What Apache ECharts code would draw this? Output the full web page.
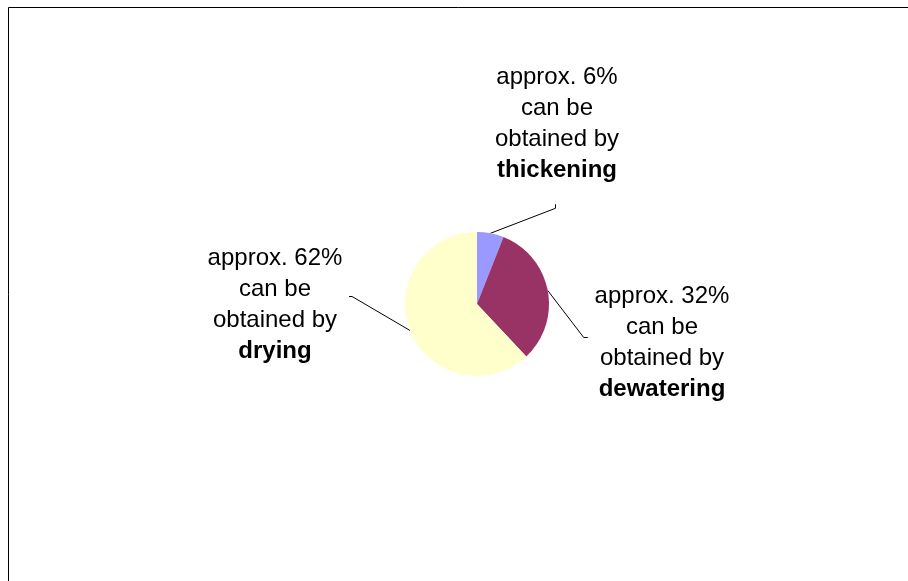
<!DOCTYPE html>
<html>
<head>
<meta charset="utf-8">
<script src="https://cdn.jsdelivr.net/npm/echarts@6/dist/echarts.min.js"></script>
<style>
html,body{margin:0;padding:0;background:#fff;}
#chart{width:908px;height:581px;}
</style>
</head>
<body>
<div id="chart"></div>
<script>
// ---- data ----
var categories = ['thickening', 'dewatering', 'drying'];
var values = [6, 32, 62];
var colors = ['#9999FF', '#993366', '#FFFFCC'];

// ---- layout config (label offsets relative to pie center) ----
var CX = 477, CY = 304, R = 72;
var labelOffsets = [[80, -180], [185, 39], [-202, 1]];
var leaderElbow = [[65, -25], [36, 47], [-58, -34]];
var leaderTick = [[0, -4], [4, 0], [-3, 0]];

var chart = echarts.init(document.getElementById('chart'));
var data = categories.map(function (c, i) {
  return { name: c, value: values[i], itemStyle: { color: colors[i] } };
});

chart.setOption({
  animation: false,
  graphic: [{
    type: 'rect',
    shape: { x: 8.5, y: 7.5, width: 1000, height: 1000 },
    style: { fill: 'none', stroke: '#000', lineWidth: 1 },
    silent: true
  }],
  series: [{
    type: 'pie',
    center: [CX, CY],
    radius: R,
    startAngle: 90,
    clockwise: true,
    avoidLabelOverlap: false,
    data: data,
    itemStyle: { borderWidth: 0 },
    emphasis: { disabled: true },
    label: {
      show: true,
      position: 'outside',
      formatter: function (p) {
        return '{n|approx. ' + p.value + '%}\n{n|can be}\n{n|obtained by}\n{b|' + p.name + '}';
      },
      rich: {
        n: { fontSize: 24, fontFamily: 'Liberation Sans', color: '#000', lineHeight: 31, align: 'center' },
        b: { fontSize: 24, fontFamily: 'Liberation Sans', fontWeight: 'bold', color: '#000', lineHeight: 31, align: 'center' }
      }
    },
    labelLine: {
      show: true,
      lineStyle: { color: '#000', width: 1 }
    },
    labelLayout: function (params) {
      var i = params.dataIndex;
      var p0 = params.labelLinePoints ? params.labelLinePoints[0] : [CX, CY];
      var e = [p0[0] + leaderElbow[i][0], p0[1] + leaderElbow[i][1]];
      var t = [e[0] + leaderTick[i][0], e[1] + leaderTick[i][1]];
      return {
        x: CX + labelOffsets[i][0],
        y: CY + labelOffsets[i][1],
        align: 'center',
        verticalAlign: 'middle',
        labelLinePoints: [p0, e, t]
      };
    }
  }]
});
</script>
</body>
</html>
